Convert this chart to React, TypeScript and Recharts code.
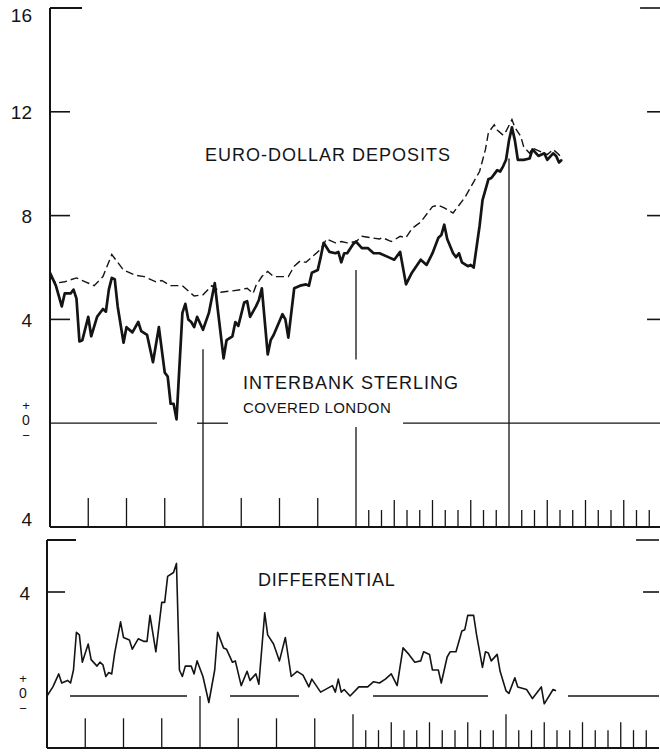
import { Line, LineChart, ReferenceLine, XAxis, YAxis } from 'recharts';

// Weekly readings, week 0 = left edge of the chart, 52 weeks to a year (4 years shown).
const sterlingWeeks = [
  0, 2, 4, 5, 7, 8, 9, 10, 11, 13, 14, 16, 18, 19, 20, 21, 22, 23, 25, 26, 28, 30, 31, 33, 35, 37, 39,
  40, 41, 42, 43, 45, 46, 47, 48, 49, 50, 52, 54, 56, 57, 59, 60, 62, 63, 64, 66, 67, 68, 70, 71, 72,
  74, 75, 76, 79, 80, 81, 83, 85, 87, 88, 89, 91, 92, 93, 95, 97, 98, 99, 100, 101, 103, 104, 106, 108,
  110, 112, 115, 117, 119, 121, 123, 126, 128, 130, 132, 133, 134, 135, 137, 138, 139, 140, 142, 143,
  144, 145, 146, 147, 149, 150, 151, 152, 153, 154, 155, 156, 157, 158, 159, 161, 163, 164, 166, 168,
  169, 171, 172, 173, 174,
];
const sterlingRates = [
  5.8, 5.3, 4.5, 5.0, 5.0, 5.15, 4.8, 3.15, 3.2, 4.1, 3.35, 4.1, 4.4, 4.3, 5.15, 5.6, 5.55, 4.5, 3.1, 3.7,
  3.5, 3.9, 3.55, 3.4, 2.35, 3.7, 1.95, 1.8, 0.75, 0.75, 0.15, 4.25, 4.6, 4.0, 3.9, 3.7, 4.1, 3.6, 4.25,
  5.4, 4.4, 2.5, 3.2, 3.35, 3.9, 3.75, 4.65, 4.7, 4.1, 4.5, 4.75, 5.2, 2.65, 3.2, 3.4, 4.2, 4.0, 3.3,
  5.2, 5.3, 5.35, 5.3, 5.8, 5.9, 6.4, 6.95, 6.6, 6.55, 6.6, 6.2, 6.55, 6.55, 6.9, 7.0, 6.75, 6.75, 6.55,
  6.55, 6.4, 6.3, 6.6, 5.35, 5.8, 6.3, 6.1, 6.55, 7.15, 7.25, 7.65, 7.1, 6.55, 6.4, 6.55, 6.2, 6.05,
  6.1, 6.0, 6.8, 7.6, 8.6, 9.4, 9.45, 9.6, 9.75, 9.7, 9.9, 10.15, 10.9, 11.4, 10.9, 10.15, 10.15, 10.2,
  10.55, 10.3, 10.4, 10.15, 10.4, 10.3, 10.05, 10.15,
];

const euroWeeks = [
  0, 2, 5, 9, 12, 15, 18, 21, 25, 29, 32, 36, 38, 41, 45, 49, 52, 55, 58, 62, 65, 67, 69, 70, 72, 74,
  76, 81, 83, 85, 87, 89, 92, 94, 97, 99, 101, 104, 106, 109, 112, 113, 116, 119, 121, 123, 126, 130,
  132, 134, 137, 139, 141, 144, 146, 148, 149, 151, 152, 154, 155, 157, 158, 160, 161, 163, 164, 167,
  169, 171, 173, 174,
];
const euroRates = [
  5.65, 5.4, 5.45, 5.6, 5.45, 5.3, 5.65, 6.5, 5.9, 5.7, 5.65, 5.45, 5.5, 5.3, 5.3, 4.9, 4.95, 5.3, 5.05,
  5.1, 5.15, 5.2, 5.0, 5.3, 5.65, 5.85, 5.65, 5.65, 6.05, 6.25, 6.2, 6.4, 6.7, 7.1, 6.95, 7.0, 6.95, 7.0,
  7.2, 7.15, 7.1, 7.15, 7.0, 7.2, 7.15, 7.5, 7.75, 8.35, 8.4, 8.3, 8.1, 8.4, 8.7, 9.3, 9.7, 10.55, 11.2,
  11.5, 11.3, 11.1, 11.25, 11.7, 11.4, 11.05, 10.65, 10.4, 10.6, 10.45, 10.35, 10.55, 10.35, 10.15,
];

const diffWeeks = [
  0, 2, 4, 5, 7, 8, 9, 10, 11, 12, 14, 15, 17, 18, 19, 20, 21, 22, 23, 25, 26, 28, 29, 31, 33, 34, 35,
  37, 39, 40, 41, 43, 44, 45, 46, 47, 49, 50, 51, 53, 55, 57, 58, 60, 61, 63, 64, 66, 68, 69, 71, 72,
  74, 75, 77, 79, 81, 83, 85, 87, 89, 90, 93, 97, 98, 99, 100, 101, 103, 106, 109, 111, 113, 115, 117,
  119, 121, 123, 125, 127, 128, 130, 131, 133, 134, 136, 137, 139, 141, 142, 143, 145, 146, 148, 149,
  150, 151, 153, 154, 156, 157, 159, 160, 163, 165, 168, 169, 172, 173,
];
const diffValues = [
  0.0, 0.35, 0.85, 0.5, 0.6, 0.5, 1.0, 2.45, 2.35, 1.3, 2.0, 1.4, 1.15, 1.3, 1.2, 0.75, 0.9, 0.85, 1.65,
  2.85, 2.25, 2.15, 1.8, 2.2, 2.1, 2.1, 3.1, 1.7, 3.6, 3.6, 4.6, 4.75, 5.1, 1.0, 0.75, 1.15, 1.15, 0.85,
  1.35, 0.75, -0.25, 1.0, 2.45, 1.85, 1.8, 1.3, 1.35, 0.4, 0.95, 0.6, 0.85, 0.45, 3.2, 2.35, 2.0, 1.35,
  2.25, 0.75, 0.95, 0.8, 0.35, 0.65, 0.15, 0.4, 0.15, 0.65, 0.15, 0.25, 0.0, 0.35, 0.35, 0.55, 0.5, 0.65,
  0.85, 0.4, 1.85, 1.6, 1.3, 1.35, 1.7, 1.6, 1.0, 1.0, 0.5, 1.5, 1.7, 1.7, 2.5, 2.55, 3.1, 3.1, 2.35,
  1.1, 1.7, 1.65, 1.35, 1.6, 0.95, 0.2, 0.1, 0.7, 0.35, 0.25, -0.1, 0.35, -0.3, 0.25, 0.2,
];

const topTicks = [16, 12, 8, 4, 0, -4];
const bottomTicks = [4, 0];

const INK = '#141414';
const FONT = '"Liberation Sans", Arial, Helvetica, sans-serif';
const WEEKS_PER_MONTH = 52 / 12;

const toPoints = (weeks: number[], values: number[]) =>
  weeks.map((week, i) => ({ week, value: values[i] }));

const sterling = toPoints(sterlingWeeks, sterlingRates);
const euro = toPoints(euroWeeks, euroRates);
const differential = toPoints(diffWeeks, diffValues);

// month marks along the time axis: quarterly for the first two years, monthly after
const monthMarks = Array.from({ length: 47 }, (_, i) => i + 1).filter(
  (m) => m % 12 !== 0 && (m > 24 || m % 3 === 0),
);

function seg(key: string, x1: number, y1: number, x2: number, y2: number, width = 1.3) {
  return (
    <ReferenceLine
      key={key}
      segment={[
        { x: x1, y: y1 },
        { x: x2, y: y2 },
      ]}
      stroke={INK}
      strokeWidth={width}
      ifOverflow="visible"
    />
  );
}

function ValueLabel(props: any) {
  const { y, payload, right, zeroX } = props;
  const v = payload.value;
  if (v === 0) {
    // the old "+ 0 −" stack, kept as one text element
    return (
      <text x={zeroX} y={y - 13} fontFamily={FONT} fill={INK} fontSize={13} textAnchor="middle">
        <tspan x={zeroX} dy={0}>+</tspan>
        <tspan x={zeroX} dy={15} fontSize={14}>0</tspan>
        <tspan x={zeroX} dy={15}>−</tspan>
      </text>
    );
  }
  let dy = 1;
  if (v === 16) dy = 7.5;
  if (v < 0) dy = -8;
  return (
    <text x={right} y={y + dy + 6.6} textAnchor="end" fontFamily={FONT} fontSize={19} fill={INK}>
      {String(Math.abs(v))}
    </text>
  );
}

function Title({ left, top, size, spacing, children }: any) {
  return (
    <div
      style={{
        position: 'absolute',
        left,
        top,
        fontFamily: FONT,
        fontSize: size,
        lineHeight: 1,
        letterSpacing: spacing,
        color: INK,
        whiteSpace: 'nowrap',
      }}
    >
      {children}
    </div>
  );
}

function TopPanel() {
  const w = (px: number) => (px - 50) / 2.942;
  return (
    <LineChart width={664} height={535} margin={{ top: 8, right: 2, bottom: 7, left: 0 }}>
      <XAxis
        type="number"
        dataKey="week"
        domain={[0, 208]}
        height={1}
        tick={false}
        tickLine={false}
        axisLine={{ stroke: INK, strokeWidth: 2 }}
        allowDataOverflow
      />
      <YAxis
        type="number"
        domain={[-4, 16]}
        ticks={topTicks}
        width={50}
        tickLine={false}
        axisLine={{ stroke: INK, strokeWidth: 2 }}
        tick={(p: any) => <ValueLabel {...p} right={32} zeroX={26} />}
        interval={0}
        allowDataOverflow
      />

      {seg('t16', 0, 16, w(82), 16, 2)}
      {[12, 8, 4].map((v) => seg(`tl${v}`, 0, v, w(70), v, 1.6))}
      {seg('r16', w(640), 16, 208, 16, 1.6)}
      {[12, 8, 4].map((v) => seg(`tr${v}`, w(647), v, 208, v, 1.6))}

      {seg('z1', 0, 0, w(157), 0)}
      {seg('z2', w(197), 0, w(228), 0)}
      {seg('z3', w(403), 0, 208, 0)}

      {seg('y1', 52, -4, 52, 2.85)}
      {seg('y2a', 104, -4, 104, -0.15)}
      {seg('y2b', 104, 2.45, 104, 5.9)}
      {seg('y3', 156, -4, 156, 10.2)}

      {monthMarks.map((m) => {
        const h = m < 24 ? 29 : m % 3 === 0 ? 27 : 17;
        return seg(`m${m}`, m * WEEKS_PER_MONTH, -4, m * WEEKS_PER_MONTH, -4 + h / 26);
      })}

      <Line
        data={euro}
        dataKey="value"
        type="linear"
        stroke={INK}
        strokeWidth={1.4}
        strokeDasharray="8 4"
        dot={false}
        isAnimationActive={false}
      />
      <Line
        data={sterling}
        dataKey="value"
        type="linear"
        stroke={INK}
        strokeWidth={2.7}
        strokeLinejoin="round"
        dot={false}
        isAnimationActive={false}
      />
    </LineChart>
  );
}

function BottomPanel() {
  const w = (px: number) => (px - 47) / 2.942;
  return (
    <LineChart width={661} height={216} margin={{ top: 7, right: 2, bottom: 0, left: 0 }}>
      <XAxis
        type="number"
        dataKey="week"
        domain={[0, 208]}
        height={1}
        tick={false}
        tickLine={false}
        axisLine={{ stroke: INK, strokeWidth: 2.2 }}
        allowDataOverflow
      />
      <YAxis
        type="number"
        domain={[-2, 6]}
        ticks={bottomTicks}
        width={47}
        tickLine={false}
        axisLine={{ stroke: INK, strokeWidth: 2 }}
        tick={(p: any) => <ValueLabel {...p} right={30} zeroX={23} />}
        interval={0}
        allowDataOverflow
      />

      {seg('b6', 0, 6, w(76), 6, 2)}
      {seg('b4', 0, 4, w(65), 4, 1.6)}
      {seg('br6', w(636), 6, 208, 6, 1.6)}
      {seg('br4', w(643), 4, 208, 4, 1.6)}

      {seg('bz1', w(70), 0, w(187), 0)}
      {seg('bz2', w(230), 0, w(299), 0)}
      {seg('bz3', w(373), 0, w(488), 0)}
      {seg('bz4', w(568), 0, 208, 0)}

      {seg('by1', 52, -2, 52, 0)}
      {seg('by2', 104, -2, 104, -2 + 34 / 26.25)}
      {seg('by3', 156, -2, 156, -2 + 34 / 26.25)}

      {monthMarks.map((m) => {
        const h = m < 24 ? 30 : m % 3 === 0 ? 26 : 18;
        return seg(`bm${m}`, m * WEEKS_PER_MONTH, -2, m * WEEKS_PER_MONTH, -2 + h / 26.25);
      })}

      <Line
        data={differential}
        dataKey="value"
        type="linear"
        stroke={INK}
        strokeWidth={1.6}
        strokeLinejoin="round"
        dot={false}
        isAnimationActive={false}
      />
    </LineChart>
  );
}

export default function App() {
  return (
    <div
      style={{
        position: 'absolute',
        left: 0,
        top: 0,
        width: 660,
        height: 752,
        overflow: 'hidden',
        background: '#fff',
      }}
    >
      <div style={{ position: 'absolute', left: 0, top: 0 }}>
        <TopPanel />
      </div>
      <div style={{ position: 'absolute', left: 0, top: 533 }}>
        <BottomPanel />
      </div>
      <Title left={205} top={146} size={18} spacing={1}>
        EURO-DOLLAR DEPOSITS
      </Title>
      <Title left={243} top={374} size={18} spacing={1}>
        INTERBANK STERLING
      </Title>
      <Title left={243} top={400} size={15} spacing={0.4}>
        COVERED LONDON
      </Title>
      <Title left={258} top={571} size={18} spacing={0.8}>
        DIFFERENTIAL
      </Title>
    </div>
  );
}
